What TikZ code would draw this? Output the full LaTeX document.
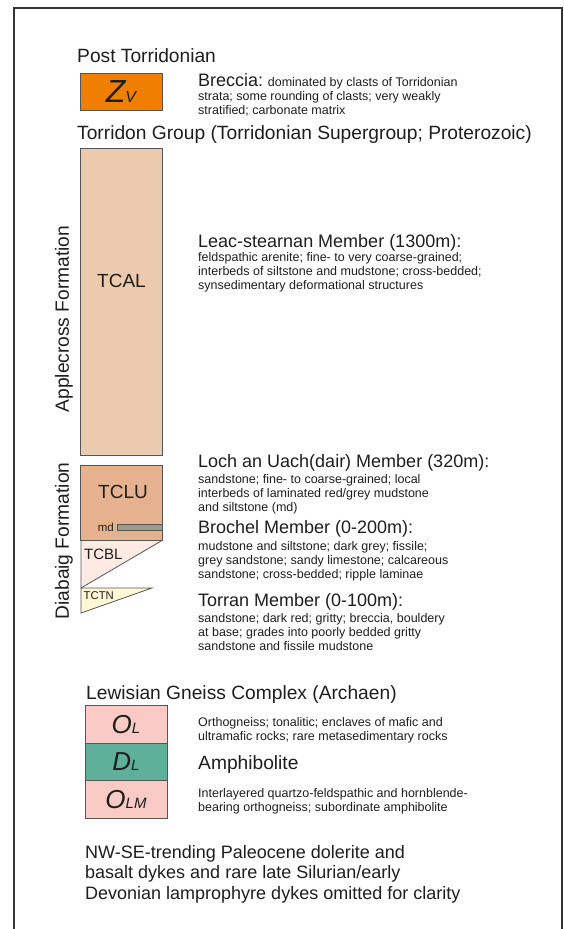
\documentclass[tikz,border=0pt]{standalone}
\usepackage{fontspec}
\setmainfont{Liberation Sans}
\usepackage{xcolor}
\usetikzlibrary{positioning,calc}

\newcommand{\fsz}[1]{\fontsize{#1}{#1}\selectfont}

\definecolor{ink}{HTML}{1E1E1E}
\definecolor{edge}{HTML}{555555}
\definecolor{zvorange}{HTML}{F07F00}
\definecolor{tcalfill}{HTML}{EBCAAE}
\definecolor{tclufill}{HTML}{E6B18E}
\definecolor{mdgrey}{HTML}{9C9C86}
\definecolor{tcblfill}{HTML}{FDEBE3}
\definecolor{tctnfill}{HTML}{FFF8D6}
\definecolor{olpink}{HTML}{FACAC4}
\definecolor{dlteal}{HTML}{5EB09A}

\begin{document}
\begin{tikzpicture}[x=1pt, y=-1pt,
        % Styles for legend text and unit boxes
        heading/.style={anchor=base west, inner sep=0pt, font=\fsz{19.2}, text=ink},
        member/.style={anchor=base west, inner sep=0pt, font=\fsz{18}, text=ink},
        % multi-line blocks: placed by the baseline of their last line
        desc/.style={anchor=base west, inner sep=0pt, align=left, font={\fontsize{12.5}{14}\selectfont}, text=ink},
        unitbox/.style={draw=edge, line width=0.9pt, minimum width=82pt, inner sep=0pt, text=ink},
        unitlabel/.style={inner sep=0pt, text=ink},
        formation/.style={rotate=90, inner sep=0pt, font=\fsz{19.2}, text=ink},
        frameline/.style={draw=ink!90, line width=2.5pt}
      ]

      \useasboundingbox (0,0) rectangle (564,929);

      % Open frame round the legend
      \draw[frameline] (14,929) -- (14,8) -- (562,8) -- (562,929);

      % Post Torridonian
      \node[heading] (posttor) at (77,62) {Post Torridonian};
      \node[unitbox, fill=zvorange, minimum height=37pt] (zv) at (121,91.5) {};
      \node[unitlabel] (zvlabel) at (zv.center) {\itshape\fsz{32}Z\fsz{16}V};
      \node[desc] (breccia) at (198,114) {{\fsz{18}Breccia:} dominated by clasts of Torridonian\\
        strata; some rounding of clasts; very weakly\\ stratified; carbonate matrix};

      % Torridon Group
      \node[heading] (torridon) at (77,139) {Torridon Group (Torridonian Supergroup; Proterozoic)};
      \node[unitbox, fill=tcalfill, minimum height=307pt] (tcal) at (121.5,301.5) {};
      \node[unitlabel, font=\fsz{19}] (tcallabel) at (121.5,281) {TCAL};
      \node[formation] (applecross) at (64,319) {Applecross Formation};

      \node[member] (leac) at (198,247) {Leac-stearnan Member (1300m):};
      \node[desc] (leacdesc) at (198,289) {feldspathic arenite; fine- to very coarse-grained;\\
        interbeds of siltstone and mudstone; cross-bedded;\\ synsedimentary deformational structures};

      % Diabaig Formation column
      \node[unitbox, fill=tclufill, minimum height=75pt] (tclu) at (121.5,503) {};
      \node[unitlabel, font=\fsz{19}] (tclulabel) at (123,492) {TCLU};
      \draw[draw=edge, fill=mdgrey, line width=0.8pt] (117,524) rectangle (162,530);
      \node[unitlabel, font=\fsz{11.5}, anchor=east] (mdlabel) at (114,527) {md};
      \draw[draw=edge, fill=tcblfill, line width=0.8pt] (81,540.5) -- (162,540.5) -- (81,588) -- cycle;
      \node[unitlabel, font=\fsz{15}, anchor=west] (tcbllabel) at (84,554) {TCBL};
      \draw[draw=edge, fill=tctnfill, line width=0.8pt] (81,588) -- (152,588) -- (81,613) -- cycle;
      \node[unitlabel, font=\fsz{11.3}, anchor=west] (tctnlabel) at (83.5,596) {TCTN};
      \node[formation] (diabaig) at (64,541) {Diabaig Formation};

      \node[member] (loch) at (198,467) {Loch an Uach(dair) Member (320m):};
      \node[desc] (lochdesc) at (198,511) {sandstone; fine- to coarse-grained; local\\
        interbeds of laminated red/grey mudstone\\ and siltstone (md)};
      \node[member] (brochel) at (198,533) {Brochel Member (0-200m):};
      \node[desc] (brocheldesc) at (198,578) {mudstone and siltstone; dark grey; fissile;\\
        grey sandstone; sandy limestone; calcareous\\ sandstone; cross-bedded; ripple laminae};
      \node[member] (torran) at (198,606) {Torran Member (0-100m):};
      \node[desc] (torrandesc) at (198,650) {sandstone; dark red; gritty; breccia, bouldery\\
        at base; grades into poorly bedded gritty\\ sandstone and fissile mudstone};

      % Lewisian Gneiss Complex
      \node[heading] (lewisian) at (86,699) {Lewisian Gneiss Complex (Archaen)};
      \node[unitbox, fill=olpink, minimum height=37.5pt] (ol) at (126,724.5) {};
      \node[unitbox, fill=dlteal, minimum height=37.5pt] (dl) at (126,762) {};
      \node[unitbox, fill=olpink, minimum height=37.5pt] (olm) at (126,799.5) {};
      \node[unitlabel] (ollabel) at (ol.center) {\itshape\fsz{26}O\fsz{15}L};
      \node[unitlabel] (dllabel) at (dl.center) {\itshape\fsz{26}D\fsz{15}L};
      \node[unitlabel] (olmlabel) at (olm.center) {\itshape\fsz{26}O\fsz{15}LM};

      \node[desc] (oldesc) at (198,740) {Orthogneiss; tonalitic; enclaves of mafic and\\
        ultramafic rocks; rare metasedimentary rocks};
      \node[heading] (amphibolite) at (198,769) {Amphibolite};
      \node[desc] (olmdesc) at (198,811) {Interlayered quartzo-feldspathic and hornblende-\\
        bearing orthogneiss; subordinate amphibolite};

      % Note on dykes
      \node[anchor=base west, inner sep=0pt, align=left, font={\fontsize{18}{20.5}\selectfont}, text=ink] (dykes) at (85,899)
        {NW-SE-trending Paleocene dolerite and\\ basalt dykes and rare late Silurian/early\\
        Devonian lamprophyre dykes omitted for clarity};

    \end{tikzpicture}
\end{document}
